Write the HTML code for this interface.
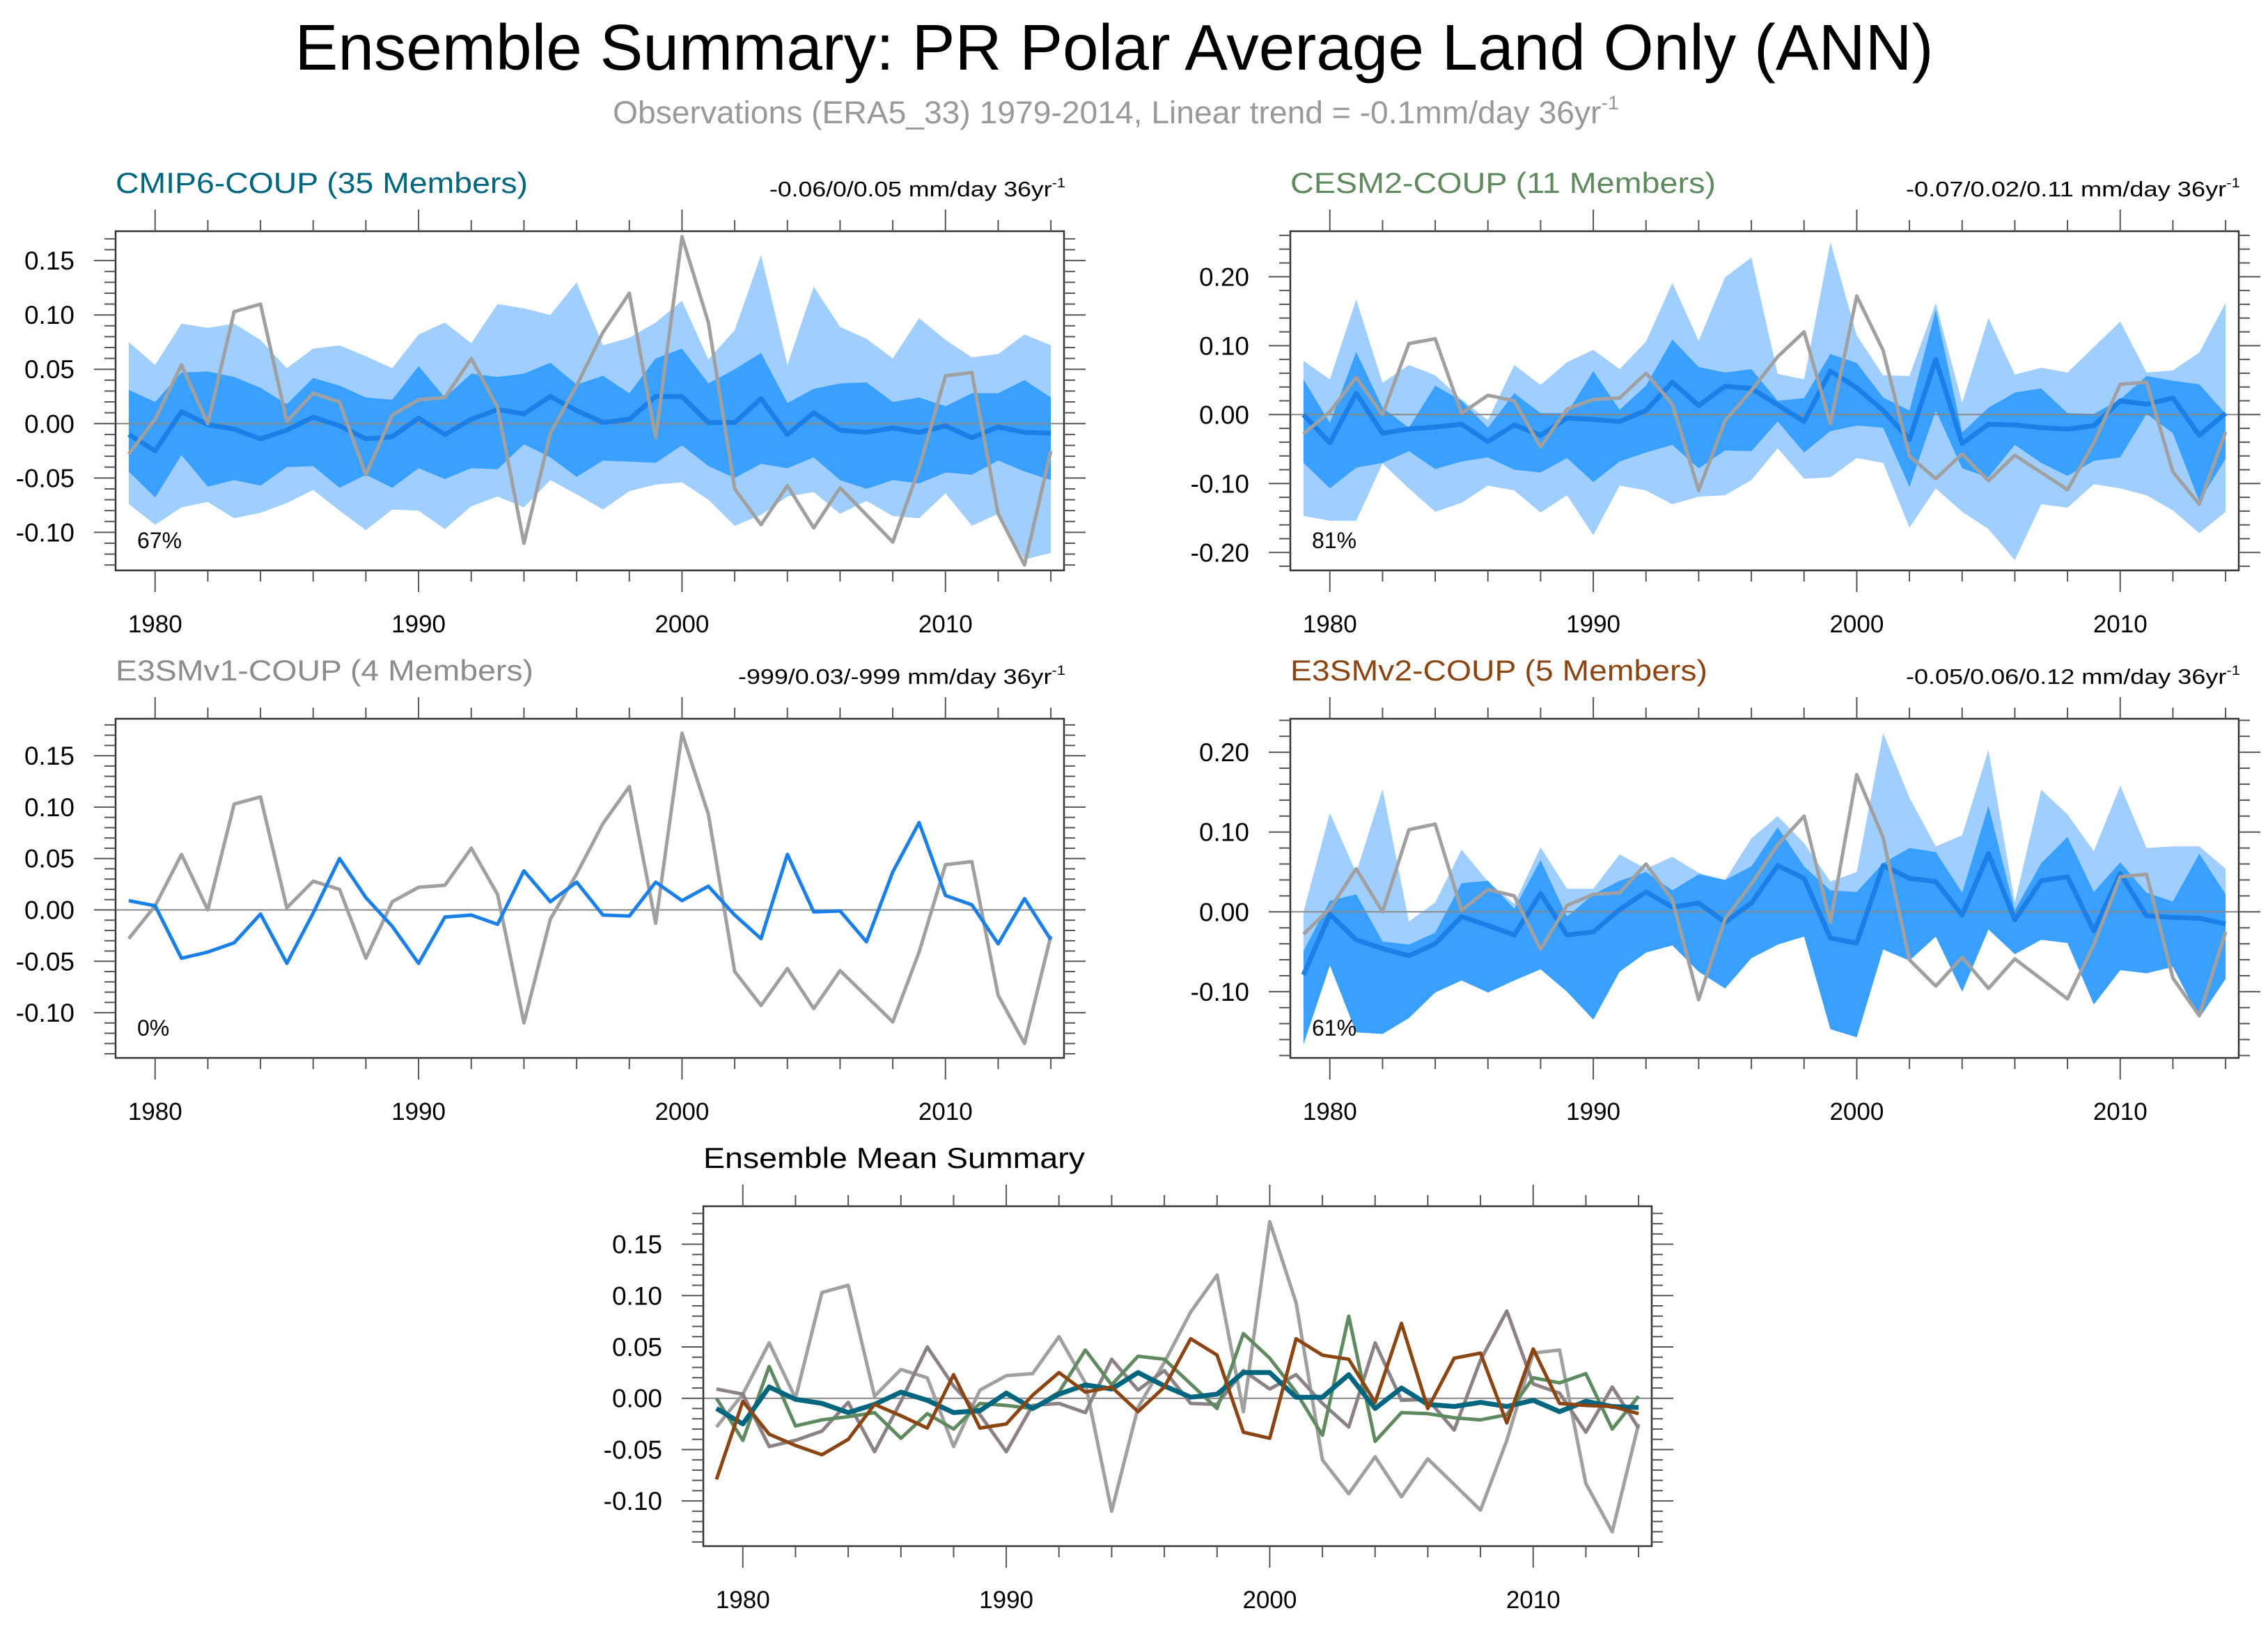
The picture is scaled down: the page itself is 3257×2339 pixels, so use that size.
<!DOCTYPE html>
<html><head><meta charset="utf-8"><title>Ensemble Summary</title>
<style>
html,body{margin:0;padding:0;background:#fff;}
svg{display:block;font-family:"Liberation Sans",Arial,sans-serif;}
</style></head>
<body>
<svg id="chart" width="3257" height="2339" viewBox="0 0 3257 2339" xmlns="http://www.w3.org/2000/svg">
<rect x="0" y="0" width="3257" height="2339" fill="#fff"/>
<text x="1600" y="100" font-size="93" text-anchor="middle" textLength="2353" lengthAdjust="spacingAndGlyphs" fill="#000">Ensemble Summary: PR Polar Average Land Only (ANN)</text>
<text x="880" y="177" font-size="45" textLength="1445" lengthAdjust="spacingAndGlyphs" fill="#999">Observations (ERA5_33) 1979-2014, Linear trend = -0.1mm/day 36yr<tspan font-size="28" dy="-20">-1</tspan></text>
</svg>
<script>
const obs=[-0.028,0.004,0.054,0.000,0.103,0.110,0.002,0.028,0.020,-0.047,0.008,0.022,0.024,0.060,0.015,-0.110,-0.009,0.035,0.084,0.120,-0.013,0.172,0.093,-0.060,-0.093,-0.057,-0.096,-0.059,-0.084,-0.109,-0.041,0.044,0.047,-0.083,-0.130,-0.025];
const cmipMean=[-0.010,-0.025,0.011,-0.001,-0.005,-0.014,-0.006,0.006,-0.002,-0.014,-0.012,0.005,-0.010,0.004,0.013,0.009,0.025,0.012,0.001,0.004,0.025,0.025,0.001,0.001,0.023,-0.010,0.010,-0.006,-0.008,-0.004,-0.008,-0.002,-0.013,-0.003,-0.008,-0.009];
const cmipInHi=[0.031,0.020,0.047,0.048,0.043,0.033,0.018,0.042,0.035,0.024,0.022,0.053,0.024,0.046,0.043,0.046,0.056,0.036,0.044,0.028,0.060,0.069,0.037,0.050,0.065,0.019,0.032,0.037,0.038,0.020,0.024,0.016,0.028,0.028,0.040,0.024];
const cmipInLo=[-0.044,-0.068,-0.029,-0.058,-0.052,-0.057,-0.040,-0.039,-0.059,-0.047,-0.059,-0.041,-0.051,-0.041,-0.042,-0.019,-0.031,-0.049,-0.034,-0.035,-0.036,-0.020,-0.039,-0.050,-0.037,-0.041,-0.031,-0.052,-0.060,-0.052,-0.055,-0.045,-0.047,-0.034,-0.044,-0.052];
const cmipOutHi=[0.075,0.054,0.092,0.088,0.092,0.077,0.051,0.069,0.072,0.062,0.051,0.082,0.093,0.074,0.110,0.106,0.100,0.130,0.072,0.079,0.093,0.113,0.059,0.086,0.155,0.054,0.126,0.089,0.078,0.060,0.097,0.077,0.061,0.064,0.082,0.072];
const cmipOutLo=[-0.074,-0.093,-0.077,-0.072,-0.087,-0.082,-0.073,-0.061,-0.080,-0.098,-0.079,-0.080,-0.097,-0.076,-0.067,-0.077,-0.052,-0.065,-0.079,-0.062,-0.056,-0.054,-0.070,-0.094,-0.084,-0.067,-0.063,-0.083,-0.071,-0.085,-0.087,-0.064,-0.094,-0.083,-0.125,-0.119];
const cesmMean=[0.000,-0.041,0.031,-0.027,-0.021,-0.018,-0.014,-0.039,-0.015,-0.030,-0.005,-0.007,-0.010,0.006,0.047,0.013,0.041,0.038,0.014,-0.010,0.063,0.039,0.006,-0.036,0.080,-0.042,-0.014,-0.015,-0.019,-0.021,-0.016,0.020,0.015,0.024,-0.030,0.002];
const cesmInHi=[0.051,-0.012,0.091,0.010,-0.019,0.042,0.020,-0.019,0.031,0.002,0.002,0.063,0.007,0.042,0.109,0.069,0.061,0.066,0.020,0.024,0.088,0.075,0.025,0.006,0.152,-0.026,0.010,0.032,0.038,0.002,0.001,0.022,0.056,0.049,0.044,0.001];
const cesmInLo=[-0.070,-0.107,-0.077,-0.070,-0.053,-0.079,-0.068,-0.062,-0.080,-0.084,-0.063,-0.098,-0.068,-0.055,-0.044,-0.078,-0.052,-0.053,-0.010,-0.055,-0.024,-0.016,-0.019,-0.105,0.006,-0.078,-0.091,-0.044,-0.070,-0.089,-0.067,-0.062,0.001,-0.027,-0.126,-0.064];
const cesmOutHi=[0.078,0.051,0.167,0.046,0.072,0.057,0.022,-0.008,0.072,0.043,0.076,0.094,0.066,0.106,0.191,0.107,0.199,0.228,0.059,0.051,0.250,0.115,0.057,0.056,0.162,0.017,0.140,0.058,0.068,0.061,0.098,0.135,0.061,0.064,0.090,0.162];
const cesmOutLo=[-0.147,-0.154,-0.154,-0.071,-0.107,-0.141,-0.128,-0.103,-0.110,-0.142,-0.117,-0.175,-0.103,-0.110,-0.130,-0.119,-0.117,-0.095,-0.049,-0.093,-0.091,-0.063,-0.070,-0.164,-0.107,-0.141,-0.166,-0.211,-0.130,-0.135,-0.101,-0.107,-0.117,-0.139,-0.172,-0.141];
const v1Mean=[0.009,0.004,-0.047,-0.041,-0.032,-0.004,-0.052,-0.003,0.050,0.012,-0.016,-0.052,-0.007,-0.005,-0.014,0.038,0.008,0.027,-0.005,-0.006,0.027,0.009,0.023,-0.005,-0.028,0.054,-0.002,-0.001,-0.031,0.037,0.085,0.014,0.005,-0.033,0.011,-0.029];
const v2Mean=[-0.079,-0.003,-0.035,-0.046,-0.055,-0.040,-0.006,-0.017,-0.029,0.023,-0.029,-0.025,0.003,0.025,0.006,0.011,-0.013,0.011,0.058,0.042,-0.033,-0.039,0.058,0.042,0.038,-0.004,0.073,-0.010,0.039,0.044,-0.024,0.048,-0.005,-0.007,-0.008,-0.015];
const v2InHi=[-0.049,0.014,0.022,-0.037,-0.041,-0.026,0.036,0.039,0.004,0.065,-0.006,0.022,0.039,0.050,0.027,0.047,0.040,0.057,0.106,0.057,0.027,0.025,0.061,0.080,0.075,0.024,0.133,0.002,0.061,0.094,0.025,0.062,0.024,0.013,0.073,0.022];
const v2InLo=[-0.166,-0.067,-0.151,-0.153,-0.133,-0.101,-0.086,-0.101,-0.086,-0.072,-0.100,-0.135,-0.075,-0.051,-0.042,-0.075,-0.096,-0.058,-0.041,-0.031,-0.147,-0.157,-0.047,-0.061,-0.031,-0.100,-0.022,-0.053,-0.035,-0.039,-0.116,-0.073,-0.077,-0.069,-0.133,-0.084];
const v2OutHi=[0.000,0.124,0.049,0.154,-0.012,0.012,0.078,0.038,0.010,0.081,0.029,0.029,0.072,0.054,0.069,0.049,0.040,0.092,0.120,0.086,0.038,0.050,0.224,0.143,0.082,0.096,0.203,0.012,0.153,0.122,0.076,0.158,0.080,0.082,0.082,0.054];
const v2OutLo=[-0.166,-0.067,-0.151,-0.153,-0.133,-0.101,-0.086,-0.101,-0.086,-0.072,-0.100,-0.135,-0.075,-0.051,-0.042,-0.075,-0.096,-0.058,-0.041,-0.031,-0.147,-0.157,-0.047,-0.061,-0.031,-0.100,-0.022,-0.053,-0.035,-0.039,-0.116,-0.073,-0.077,-0.069,-0.133,-0.084];
const xTickLabels=[1980,1990,2000,2010];
const yTicksA=[0.15,0.10,0.05,0.00,-0.05,-0.10];
const yTicksB=[0.20,0.10,0.00,-0.10,-0.20];
const yTicksC=[0.20,0.10,0.00,-0.10];
const firstYear=1979;

const NS='http://www.w3.org/2000/svg';
const svg=document.getElementById('chart');
function mk(tag,attrs,parent){const e=document.createElementNS(NS,tag);for(const k in attrs)e.setAttribute(k,attrs[k]);(parent||svg).appendChild(e);return e;}

function panel(p){
  const g=mk('g',{});
  
  
  const X=v=>p.x0+(v-(firstYear-0.5))/36*(p.x1-p.x0);
  const Y=v=>p.y1-(v-p.ymin)/(p.ymax-p.ymin)*(p.y1-p.y0);
  const pts=arr=>arr.map((v,i)=>X(firstYear+i).toFixed(1)+','+Y(v).toFixed(1));
  if(p.bands){
    p.bands.forEach(b=>{
      const poly=mk('polygon',{points:pts(b.hi).concat(pts(b.lo).reverse()).join(' '),fill:b.color,stroke:'none'},g);
      
      
    });
  }
  const z=mk('line',{x1:p.x0,x2:p.x1,y1:Y(0),y2:Y(0),stroke:'#888',"stroke-width":2},g);
  
  
  p.lines.forEach(l=>{
    const pl=mk('polyline',{points:pts(l.data).join(' '),fill:'none',stroke:l.color,"stroke-width":l.w,"stroke-linejoin":"round"},g);
    
    
  });
  const box=mk('rect',{x:p.x0,y:p.y0,width:p.x1-p.x0,height:p.y1-p.y0,fill:'none',stroke:'#333',"stroke-width":2.5},g);
  
  
  for(let yr=1980;yr<=2014;yr+=2){
    const major=(yr%10===0);const L=major?31:16;const xx=X(yr);
    mk('line',{x1:xx,x2:xx,y1:p.y0,y2:p.y0-L,stroke:'#555',"stroke-width":2},g);
    mk('line',{x1:xx,x2:xx,y1:p.y1,y2:p.y1+L,stroke:'#555',"stroke-width":2},g);
  }
  xTickLabels.forEach(t=>{
    const tx=mk('text',{x:X(t),y:p.y1+89,"font-size":35,"text-anchor":"middle",fill:'#000'},g);
    tx.textContent=t;
    
    
  });
  const step=p.minor;
  for(let v=Math.ceil(p.ymin/step)*step;v<=p.ymax+1e-9;v+=step){
    const yy=Y(v);
    const isMaj=p.yticks.some(t=>Math.abs(t-v)<1e-6);
    const L=isMaj?31:16;
    mk('line',{x1:p.x0,x2:p.x0-L,y1:yy,y2:yy,stroke:'#555',"stroke-width":2},g);
    mk('line',{x1:p.x1,x2:p.x1+L,y1:yy,y2:yy,stroke:'#555',"stroke-width":2},g);
  }
  p.yticks.forEach(t=>{
    const tx=mk('text',{x:p.x0-59,y:Y(t)+13,"font-size":37,"text-anchor":"end",fill:'#000'},g);
    tx.textContent=t.toFixed(2);
    
    
  });
  const tt=mk('text',{x:p.x0,y:p.y0-55,"font-size":42,fill:p.titleColor,textLength:p.titleW,lengthAdjust:'spacingAndGlyphs'},g);
  tt.textContent=p.title;
  
  
  if(p.trend){
    const tr=mk('text',{x:p.x1+2-p.trendW,y:p.y0-50,"font-size":31,fill:'#000',textLength:p.trendW,lengthAdjust:'spacingAndGlyphs'},g);
    
    
    const a=mk('tspan',{},tr);a.textContent=p.trend;
    const s=mk('tspan',{"font-size":19,dy:-13},tr);s.textContent='-1';
  }
  if(p.pct){
    const pc=mk('text',{x:p.x0+31,y:p.y1-32,"font-size":32,fill:'#000'},g);
    pc.textContent=p.pct;
    
    
  }
}
const LB='#a0cfff',DB='#3aa0ff',BL='#1a80e8',GR='#a0a0a0';
panel({name:'cmip6-panel',x0:166,x1:1528,y0:332,y1:819,ymin:-0.135,ymax:0.177,yticks:yTicksA,minor:0.01,
  title:'CMIP6-COUP (35 Members)',titleW:592,titleColor:'#00667f',trend:'-0.06/0/0.05 mm/day 36yr',trendW:425,pct:'67%',
  bands:[{name:'outer-band',hi:cmipOutHi,lo:cmipOutLo,color:LB},{name:'inner-band',hi:cmipInHi,lo:cmipInLo,color:DB}],
  lines:[{name:'ensemble-mean-line',data:cmipMean,color:BL,w:7},{name:'observation-line',data:obs,color:GR,w:5}]});
panel({name:'cesm2-panel',x0:1853,x1:3215,y0:332,y1:819,ymin:-0.226,ymax:0.266,yticks:yTicksB,minor:0.02,
  title:'CESM2-COUP (11 Members)',titleW:611,titleColor:'#5f8a5f',trend:'-0.07/0.02/0.11 mm/day 36yr',trendW:480,pct:'81%',
  bands:[{name:'outer-band',hi:cesmOutHi,lo:cesmOutLo,color:LB},{name:'inner-band',hi:cesmInHi,lo:cesmInLo,color:DB}],
  lines:[{name:'ensemble-mean-line',data:cesmMean,color:BL,w:7},{name:'observation-line',data:obs,color:GR,w:5}]});
panel({name:'e3smv1-panel',x0:166,x1:1528,y0:1032,y1:1519,ymin:-0.144,ymax:0.186,yticks:yTicksA,minor:0.01,
  title:'E3SMv1-COUP (4 Members)',titleW:600,titleColor:'#8c8c8c',trend:'-999/0.03/-999 mm/day 36yr',trendW:470,pct:'0%',
  lines:[{name:'observation-line',data:obs,color:GR,w:5},{name:'ensemble-mean-line',data:v1Mean,color:BL,w:5}]});
panel({name:'e3smv2-panel',x0:1853,x1:3215,y0:1032,y1:1519,ymin:-0.183,ymax:0.242,yticks:yTicksC,minor:0.02,
  title:'E3SMv2-COUP (5 Members)',titleW:599,titleColor:'#8b4513',trend:'-0.05/0.06/0.12 mm/day 36yr',trendW:480,pct:'61%',
  bands:[{name:'outer-band',hi:v2OutHi,lo:v2OutLo,color:LB},{name:'inner-band',hi:v2InHi,lo:v2InLo,color:DB}],
  lines:[{name:'ensemble-mean-line',data:v2Mean,color:BL,w:7},{name:'observation-line',data:obs,color:GR,w:5}]});
panel({name:'ensemble-mean-summary-panel',x0:1010,x1:2372,y0:1732,y1:2220,ymin:-0.144,ymax:0.187,yticks:yTicksA,minor:0.01,
  title:'Ensemble Mean Summary',titleW:548,titleColor:'#000',
  lines:[{name:'observation-line',data:obs,color:GR,w:5},{name:'e3smv1-mean-line',data:v1Mean,color:'#8c8285',w:5},
         {name:'cesm2-mean-line',data:cesmMean,color:'#5f8a5f',w:5},{name:'cmip6-mean-line',data:cmipMean,color:'#00667f',w:7},
         {name:'e3smv2-mean-line',data:v2Mean,color:'#8b4513',w:5}]});
</script>
</body></html>
